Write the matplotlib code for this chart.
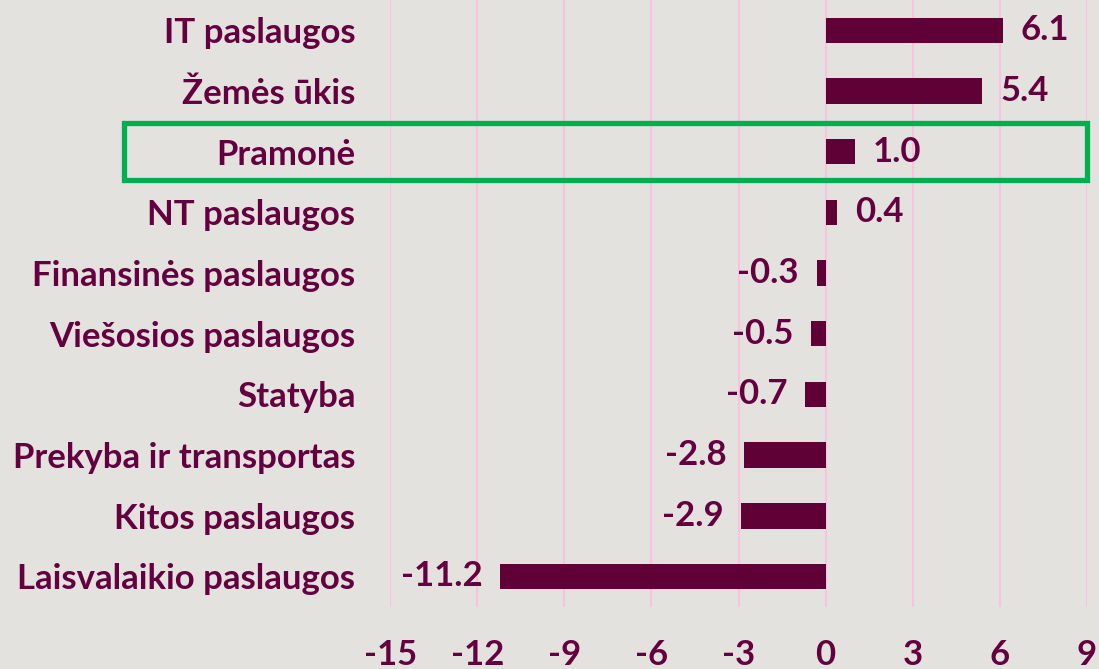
import matplotlib
matplotlib.use('Agg')
import matplotlib.pyplot as plt
from matplotlib.patches import Rectangle

# sectors, top to bottom
sectors = ['IT paslaugos', 'Žemės ūkis', 'Pramonė', 'NT paslaugos',
           'Finansinės paslaugos', 'Viešosios paslaugos', 'Statyba',
           'Prekyba ir transportas', 'Kitos paslaugos', 'Laisvalaikio paslaugos']
values = [6.1, 5.4, 1.0, 0.4, -0.3, -0.5, -0.7, -2.8, -2.9, -11.2]
xticks = [-15, -12, -9, -6, -3, 0, 3, 6, 9]
highlight = 'Pramonė'

bg = '#e3e2de'
bar_color = '#5f0037'
text_color = '#650040'
grid_color = '#f9c3df'
fs = 25

plt.rcParams['font.family'] = ['Lato', 'DejaVu Sans']

fig = plt.figure(figsize=(10.99, 6.69), dpi=100, facecolor=bg)
ax = fig.add_axes([0.355, 0.093, 0.634, 0.907])
ax.set_facecolor(bg)

ypos = list(range(len(sectors)))
ax.barh(ypos, values, height=0.42, color=bar_color, zorder=3)

for y, v in zip(ypos, values):
    off = 13 if v >= 0 else -13
    ax.annotate(f'{v:.1f}', (v, y), xytext=(off, 0), textcoords='offset points',
                ha='left' if v >= 0 else 'right', va='center',
                fontsize=fs, fontweight='bold', color=text_color)

ax.set_xlim(-15, 9)
ax.set_ylim(len(sectors) - 0.5, -0.5)
ax.set_xticks(xticks)
ax.set_xticklabels([str(t) for t in xticks])
ax.set_yticks(ypos)
ax.set_yticklabels(sectors)
ax.tick_params(axis='x', length=0, pad=23, labelsize=fs, labelcolor=text_color)
ax.tick_params(axis='y', length=0, pad=25, labelsize=fs, labelcolor=text_color)
for lbl in ax.get_xticklabels() + ax.get_yticklabels():
    lbl.set_fontweight('bold')

ax.grid(axis='x', color=grid_color, linewidth=1.5, zorder=0)
ax.grid(axis='y', visible=False)
for s in ax.spines.values():
    s.set_visible(False)

# green frame around the highlighted sector row
hi = sectors.index(highlight)
y0 = ax.transData.transform((0, hi + 0.5))[1]
y1 = ax.transData.transform((0, hi - 0.5))[1]
fh = fig.bbox.height
rect = Rectangle((124 / 1099, (y0 + 2) / fh), (1087 - 124) / 1099, (y1 - y0 - 4) / fh,
                 transform=fig.transFigure, fill=False, edgecolor='#00b050',
                 linewidth=3.8, zorder=5)
fig.patches.append(rect)

fig.savefig('out.png', dpi=100, facecolor=bg)
